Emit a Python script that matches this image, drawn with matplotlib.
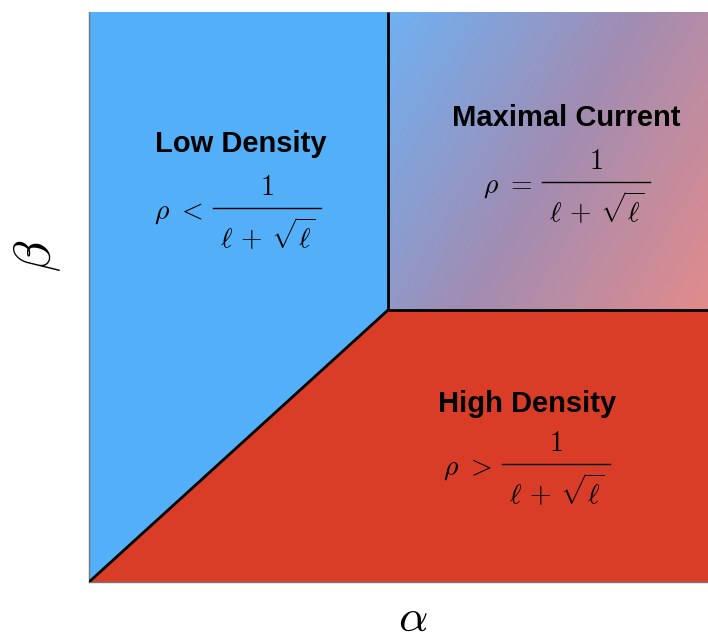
import numpy as np
import matplotlib
matplotlib.use("Agg")
import matplotlib.pyplot as plt
from matplotlib.patches import Polygon
from matplotlib.colors import LinearSegmentedColormap

plt.rcParams['mathtext.fontset'] = 'cm'

# Phase boundaries (fractions of axis range)
alpha_c = 0.483
beta_c = 0.477

region_names = ["Low Density", "Maximal Current", "High Density"]
region_relations = ["<", "=", ">"]
numerator = r"$1$"
denominator = r"$\ell\,+\,\sqrt{\ell}$"

blue = "#52AFF8"
red = "#D93C27"
grad_colors = ["#6FB1F3", "#A18DB3", "#E28B8B"]

W, H = 708, 637
fig = plt.figure(figsize=(W / 100, H / 100), dpi=100)
ax = fig.add_axes([89 / W, 55 / H, 619 / W, 570 / H])
ax.set_xlim(0, 1)
ax.set_ylim(0, 1)

# Low density polygon
ax.add_patch(Polygon([(0, 0), (alpha_c, beta_c), (alpha_c, 1), (0, 1)], closed=True,
                     facecolor=blue, edgecolor='none', zorder=1))
# High density polygon
ax.add_patch(Polygon([(0, 0), (1, 0), (1, beta_c), (alpha_c, beta_c)], closed=True,
                     facecolor=red, edgecolor='none', zorder=1))

# Maximal current gradient (top-left blue -> bottom-right pink)
gx = np.linspace(0, 1, 300)
gy = np.linspace(0, 1, 300)
GX, GY = np.meshgrid(gx, gy)
t = (GX * 1.0 + GY * 0.55) / 1.55
cmap = LinearSegmentedColormap.from_list("mc", grad_colors)
ax.imshow(t, cmap=cmap, extent=(alpha_c, 1, beta_c, 1), origin='upper',
          aspect='auto', zorder=0.5, interpolation='bilinear')

# Boundary lines
ax.plot([alpha_c, alpha_c], [beta_c, 1], color='black', lw=2, zorder=3, solid_capstyle='butt')
ax.plot([alpha_c, 1], [beta_c, beta_c], color='black', lw=2, zorder=3, solid_capstyle='butt')
ax.plot([0, alpha_c], [0, beta_c], color='black', lw=2, zorder=3, solid_capstyle='butt')

# Text layout (pixel positions)
def px(x):
    return x / W

def py(y):
    return 1 - y / H

title_pos = [(241, 144), (566, 118), (527, 404)]
bar_left = [213, 542, 502]
bar_y = [208, 182, 464]
bar_w = 108
math_fs = 20

for name, rel, (tx, ty), bl, by in zip(region_names, region_relations, title_pos, bar_left, bar_y):
    fig.text(px(tx), py(ty), name, ha='center', va='center',
             fontsize=21, fontweight='bold', family='Liberation Sans', zorder=5)
    fig.text(px(bl - 10), py(by + 4), r"$\rho\ " + rel + "$", ha='right', va='center',
             fontsize=math_fs, zorder=5)
    cx = bl + bar_w / 2
    fig.text(px(cx), py(by - 13), numerator, ha='center', va='baseline',
             fontsize=math_fs, zorder=5)
    fig.text(px(cx + 1), py(by + 40), denominator, ha='center', va='baseline',
             fontsize=math_fs, zorder=5)
    fig.add_artist(plt.Line2D([px(bl), px(bl + bar_w)], [py(by), py(by)],
                              color='black', lw=1.0, zorder=5))

for s in ['top', 'right']:
    ax.spines[s].set_visible(False)
for s in ['left', 'bottom']:
    ax.spines[s].set_color('#777777')
    ax.spines[s].set_linewidth(1.0)
ax.set_xticks([])
ax.set_yticks([])

fig.text(px(413), py(618), r"$\alpha$", ha='center', va='center', fontsize=33)
fig.text(px(37), py(256), r"$\beta$", ha='center', va='center', fontsize=37, rotation=90)

fig.savefig("out.png", dpi=100)
